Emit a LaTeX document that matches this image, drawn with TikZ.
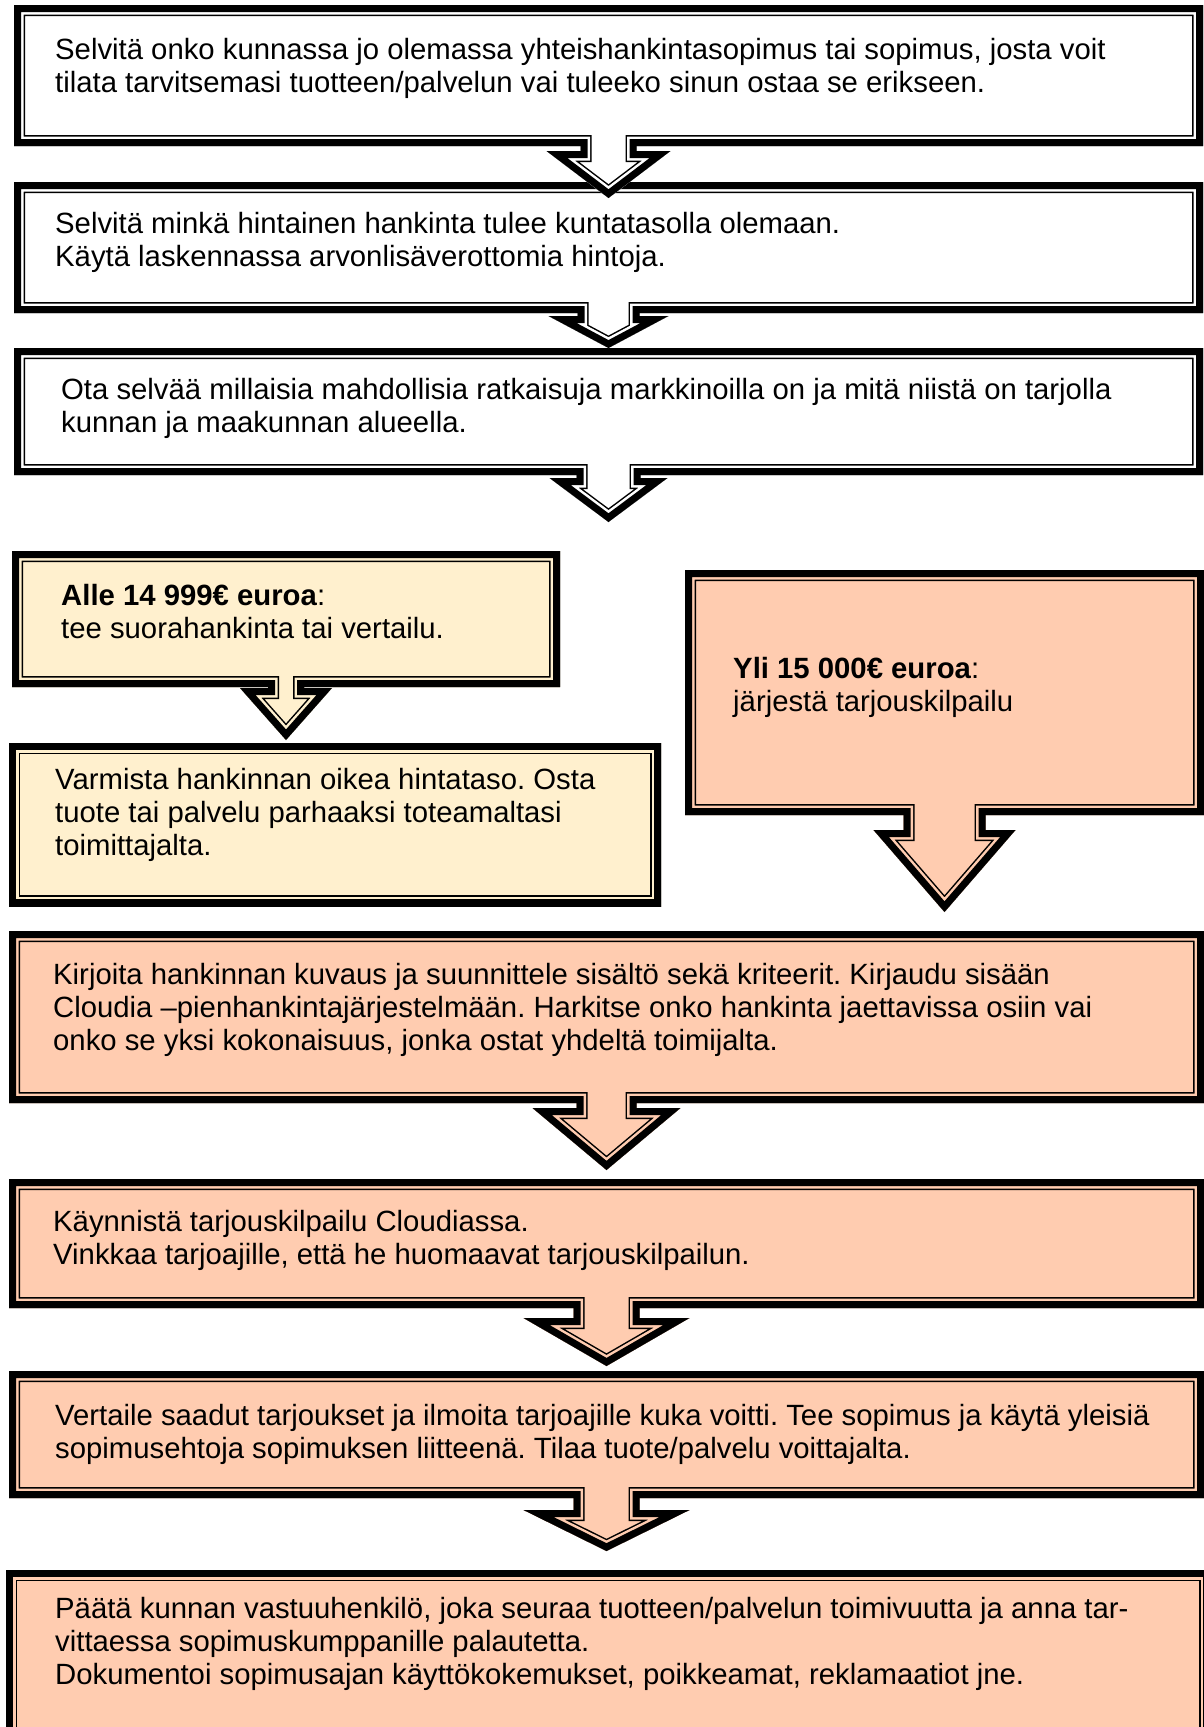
\documentclass[tikz,border=0pt]{standalone}
\usepackage{fontspec}
\setmainfont{Liberation Sans}
\usetikzlibrary{positioning,calc}
\frenchspacing

\definecolor{kerma}{RGB}{255,240,206}
\definecolor{persikka}{RGB}{255,204,176}

% kehys: paksu viiva ulkona, ohut sisällä
\newcommand\kehys[2]{%
  \begin{scope}
    \clip #2;
    \path[fill=#1,draw=black,line width=22pt,
      postaction={draw=#1,line width=19pt},
      postaction={draw=black,line width=14pt}] #2;
  \end{scope}}

% laatikko ja nuoli alas
\newcommand\nuolipolku[5]{(#1.north west) -- (#1.north east) -- (#1.south east)
  -- ($(#1.south)+(#2,0)$) -- ($(#1.south)+(#2,#4)$) -- ($(#1.south)+(#3,#4)$)
  -- ($(#1.south)+(0,#5)$) -- ($(#1.south)+(-#3,#4)$) -- ($(#1.south)+(-#2,#4)$)
  -- ($(#1.south)+(-#2,0)$) -- (#1.south west) -- cycle}
\newcommand\laatikkopolku[1]{(#1.north west) rectangle (#1.south east)}

\begin{document}
\begin{tikzpicture}[x=1pt,y=-1pt]
\tikzstyle{laatikko}=[rectangle,anchor=north west,inner sep=0pt,outer sep=0pt]
\tikzstyle{teksti}=[anchor=north west,inner sep=0pt,align=left,font=\fontsize{29.3}{33}\selectfont]
\useasboundingbox (0,0) rectangle (1203,1727);

\node[laatikko,minimum width=1189pt,minimum height=141pt] (selvita) at (14,5) {};
\node[laatikko,minimum width=1189pt,minimum height=131pt] (hinta) at (14,182) {};
\node[laatikko,minimum width=1189pt,minimum height=127pt] (markkinat) at (14,348) {};
\node[laatikko,minimum width=548pt,minimum height=136pt] (alle) at (12,551) {};
\node[laatikko,minimum width=652pt,minimum height=163pt] (varmista) at (9,743) {};
\node[laatikko,minimum width=519pt,minimum height=245pt] (yli) at (685,570) {};
\node[laatikko,minimum width=1195pt,minimum height=172pt] (kuvaus) at (9,931) {};
\node[laatikko,minimum width=1195pt,minimum height=129pt] (kaynnista) at (9,1179) {};
\node[laatikko,minimum width=1195pt,minimum height=127pt] (vertaile) at (9,1371) {};
\node[laatikko,minimum width=1204pt,minimum height=180pt] (paata) at (6,1570) {};

% alhaalta ylös, jotta nuolet jäävät päälle
\kehys{persikka}{\laatikkopolku{paata}}
\kehys{persikka}{\nuolipolku{vertaile}{33}{83}{12}{53}}
\kehys{persikka}{\nuolipolku{kaynnista}{33}{83}{10}{58}}
\kehys{persikka}{\nuolipolku{kuvaus}{30}{74}{5}{67}}
\kehys{persikka}{\nuolipolku{yli}{41}{71}{15}{97}}
\kehys{kerma}{\laatikkopolku{varmista}}
\kehys{kerma}{\nuolipolku{alle}{18}{46}{1}{53}}
\kehys{white}{\nuolipolku{markkinat}{32}{59}{3}{47}}
\kehys{white}{\nuolipolku{hinta}{31}{60}{3}{35}}
\kehys{white}{\nuolipolku{selvita}{28}{62}{5}{52}}

\node[teksti,below right=31pt and 41pt of selvita.north west] (t1) {\strut Selvitä onko kunnassa jo olemassa yhteishankintasopimus tai sopimus, josta voit\\tilata tarvitsemasi tuotteen/palvelun vai tuleeko sinun ostaa se erikseen.};
\node[teksti,below right=28pt and 41pt of hinta.north west] (t2) {\strut Selvitä minkä hintainen hankinta tulee kuntatasolla olemaan.\\Käytä laskennassa arvonlisäverottomia hintoja.};
\node[teksti,below right=28pt and 47pt of markkinat.north west] (t3) {\strut Ota selvää millaisia mahdollisia ratkaisuja markkinoilla on ja mitä niistä on tarjolla\\kunnan ja maakunnan alueella.};
\node[teksti,below right=31pt and 49pt of alle.north west] (t4) {\strut\textbf{Alle 14 999€ euroa}:\\tee suorahankinta tai vertailu.};
\node[teksti,below right=23pt and 46pt of varmista.north west] (t5) {\strut Varmista hankinnan oikea hintataso. Osta\\tuote tai palvelu parhaaksi toteamaltasi\\toimittajalta.};
\node[teksti,below right=85pt and 48pt of yli.north west] (t6) {\strut\textbf{Yli 15 000€ euroa}:\\järjestä tarjouskilpailu};
\node[teksti,below right=30pt and 44pt of kuvaus.north west] (t7) {\strut Kirjoita hankinnan kuvaus ja suunnittele sisältö sekä kriteerit. Kirjaudu sisään\\Cloudia –pienhankintajärjestelmään. Harkitse onko hankinta jaettavissa osiin vai\\onko se yksi kokonaisuus, jonka ostat yhdeltä toimijalta.};
\node[teksti,below right=29pt and 44pt of kaynnista.north west] (t8) {\strut Käynnistä tarjouskilpailu Cloudiassa.\\Vinkkaa tarjoajille, että he huomaavat tarjouskilpailun.};
\node[teksti,below right=31pt and 46pt of vertaile.north west] (t9) {\strut Vertaile saadut tarjoukset ja ilmoita tarjoajille kuka voitti. Tee sopimus ja käytä yleisiä\\sopimusehtoja sopimuksen liitteenä. Tilaa tuote/palvelu voittajalta.};
\node[teksti,below right=25pt and 49pt of paata.north west] (t10) {\strut Päätä kunnan vastuuhenkilö, joka seuraa tuotteen/palvelun toimivuutta ja anna tar-\\vittaessa sopimuskumppanille palautetta.\\Dokumentoi sopimusajan käyttökokemukset, poikkeamat, reklamaatiot jne.};
\end{tikzpicture}
\end{document}
